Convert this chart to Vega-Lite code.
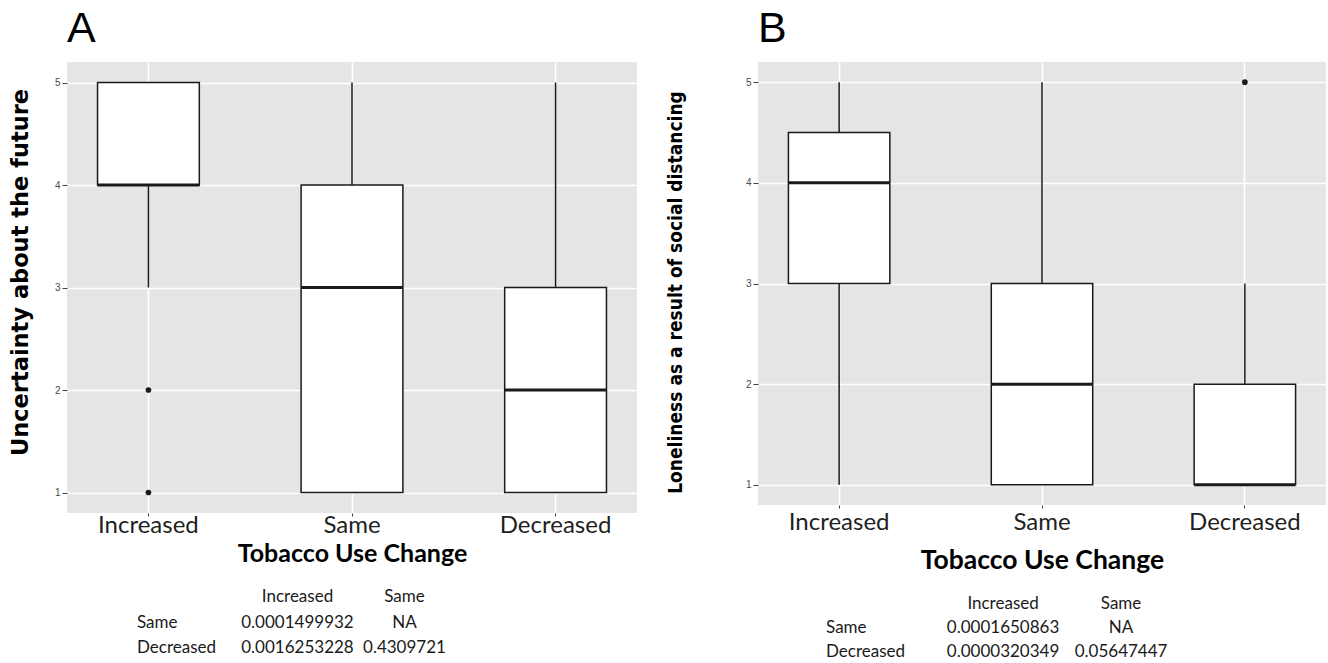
{
  "$schema": "https://vega.github.io/schema/vega-lite/v6.json",
  "background": "white",
  "padding": {"left": 9, "top": 8, "right": 0, "bottom": 0},
  "config": {
    "view": {"fill": "#e5e5e5", "stroke": null},
    "axisY": {"labelOverlap": false},
    "axisX": {"labelOverlap": false}
  },
  "datasets": {
    "boxA": [
      {"group": "Increased", "lower": 3, "q1": 4, "median": 4, "q3": 5, "upper": 5},
      {"group": "Same", "lower": 1, "q1": 1, "median": 3, "q3": 4, "upper": 5},
      {"group": "Decreased", "lower": 1, "q1": 1, "median": 2, "q3": 3, "upper": 5}
    ],
    "outA": [
      {"group": "Increased", "value": 2},
      {"group": "Increased", "value": 1}
    ],
    "tabA": [
      {"row": "header", "col": "Increased", "text": "Increased"},
      {"row": "header", "col": "Same", "text": "Same"},
      {"row": "Same", "col": "rowname", "text": "Same"},
      {"row": "Same", "col": "Increased", "text": "0.0001499932"},
      {"row": "Same", "col": "Same", "text": "NA"},
      {"row": "Decreased", "col": "rowname", "text": "Decreased"},
      {"row": "Decreased", "col": "Increased", "text": "0.0016253228"},
      {"row": "Decreased", "col": "Same", "text": "0.4309721"}
    ],
    "boxB": [
      {"group": "Increased", "lower": 1, "q1": 3, "median": 4, "q3": 4.5, "upper": 5},
      {"group": "Same", "lower": 1, "q1": 1, "median": 2, "q3": 3, "upper": 5},
      {"group": "Decreased", "lower": 1, "q1": 1, "median": 1, "q3": 2, "upper": 3}
    ],
    "outB": [
      {"group": "Decreased", "value": 5}
    ],
    "tabB": [
      {"row": "header", "col": "Increased", "text": "Increased"},
      {"row": "header", "col": "Same", "text": "Same"},
      {"row": "Same", "col": "rowname", "text": "Same"},
      {"row": "Same", "col": "Increased", "text": "0.0001650863"},
      {"row": "Same", "col": "Same", "text": "NA"},
      {"row": "Decreased", "col": "rowname", "text": "Decreased"},
      {"row": "Decreased", "col": "Increased", "text": "0.0000320349"},
      {"row": "Decreased", "col": "Same", "text": "0.05647447"}
    ]
  },
  "spacing": 29,
  "hconcat": [
    {
      "bounds": "flush",
      "spacing": 84,
      "vconcat": [
        {
          "width": 570,
          "height": 451,
          "title": {"text": "A", "anchor": "start", "frame": "group", "font": "Liberation Sans", "fontSize": 43, "fontWeight": "normal", "baseline": "alphabetic", "offset": -23, "color": "black"},
          "encoding": {
            "x": {
              "field": "group", "type": "nominal", "sort": ["Increased", "Same", "Decreased"],
              "scale": {"type": "band", "paddingInner": 0.5, "paddingOuter": 0.15},
              "axis": {
                "title": "Tobacco Use Change", "labelAngle": 0, "labelFont": "Lato", "labelFontSize": 24,
                "labelColor": "#1f1f1f", "labelPadding": -3, "tickSize": 3, "tickColor": "#444", "domain": false,
                "grid": true, "gridColor": "white", "gridWidth": 1.6, "bandPosition": 0.5,
                "titleFont": "Lato", "titleFontWeight": "bold", "titleFontSize": 25, "titleColor": "black", "titlePadding": 4
              }
            }
          },
          "layer": [
            {
              "data": {"name": "boxA"},
              "mark": {"type": "rule", "color": "#1a1a1a", "strokeWidth": 1.5},
              "encoding": {
                "y": {
                  "field": "lower", "type": "quantitative", "title": "Uncertainty about the future",
                  "scale": {"domain": [0.8, 5.2], "nice": false, "zero": false},
                  "axis": {
                    "values": [1, 1.5, 2, 2.5, 3, 3.5, 4, 4.5, 5],
                    "format": "d",
                    "labelExpr": "datum.value % 1 === 0 ? datum.label : ''",
                    "grid": true, "gridColor": "white",
                    "gridWidth": {"condition": {"test": "datum.value % 1 !== 0", "value": 0.8}, "value": 1.6},
                    "tickSize": 5, "tickColor": "#444",
                    "tickOpacity": {"condition": {"test": "datum.value % 1 !== 0", "value": 0}, "value": 1},
                    "labelFont": "Liberation Sans", "labelFontSize": 10, "labelColor": "#4d4d4d", "labelPadding": 2,
                    "domain": false,
                    "titleFont": "DejaVu Sans", "titleFontWeight": "bold", "titleFontSize": 22.5, "titleColor": "black", "titlePadding": 22,
                    "titleY": 210
                  }
                },
                "y2": {"field": "upper"}
              }
            },
            {
              "data": {"name": "boxA"},
              "mark": {"type": "bar", "fill": "white", "stroke": "#1a1a1a", "strokeWidth": 1.5},
              "encoding": {
                "y": {"field": "q1", "type": "quantitative", "title": "Uncertainty about the future"},
                "y2": {"field": "q3"}
              }
            },
            {
              "data": {"name": "boxA"},
              "mark": {"type": "tick", "color": "#1a1a1a", "thickness": 3, "size": 102, "opacity": 1},
              "encoding": {
                "y": {"field": "median", "type": "quantitative", "title": "Uncertainty about the future"}
              }
            },
            {
              "data": {"name": "outA"},
              "mark": {"type": "point", "filled": true, "color": "#1a1a1a", "size": 32, "opacity": 1},
              "encoding": {
                "y": {"field": "value", "type": "quantitative", "title": "Uncertainty about the future"}
              }
            }
          ]
        },
        {
          "width": 535,
          "height": 51,
          "view": {"fill": null, "stroke": null},
          "data": {"name": "tabA"},
          "encoding": {
            "y": {"field": "row", "type": "nominal", "scale": {"type": "point", "domain": ["header", "Same", "Decreased"], "padding": 0}, "axis": null},
            "text": {"field": "text"}
          },
          "layer": [
            {
              "transform": [{"filter": "datum.col === 'rowname'"}],
              "mark": {"type": "text", "align": "left", "baseline": "middle", "font": "Lato", "fontSize": 17, "color": "#1a1a1a"},
              "encoding": {
                "x": {"field": "col", "type": "nominal", "bandPosition": 0, "scale": {"type": "band", "domain": ["rowname", "Increased", "Same"], "paddingInner": 0, "paddingOuter": 1, "align": 0.327}, "axis": null}
              }
            },
            {
              "transform": [{"filter": "datum.col !== 'rowname'"}],
              "mark": {"type": "text", "align": "center", "baseline": "middle", "font": "Lato", "fontSize": 17, "color": "#1a1a1a"},
              "encoding": {
                "x": {"field": "col", "type": "nominal", "bandPosition": 0.5, "scale": {"type": "band", "domain": ["rowname", "Increased", "Same"], "paddingInner": 0, "paddingOuter": 1, "align": 0.327}, "axis": null}
              }
            }
          ]
        }
      ]
    },
    {
      "bounds": "flush",
      "spacing": 99,
      "vconcat": [
        {
          "width": 568,
          "height": 443,
          "title": {"text": "B", "anchor": "start", "frame": "group", "font": "Liberation Sans", "fontSize": 43, "fontWeight": "normal", "baseline": "alphabetic", "offset": -23, "color": "black"},
          "encoding": {
            "x": {
              "field": "group", "type": "nominal", "sort": ["Increased", "Same", "Decreased"],
              "scale": {"type": "band", "paddingInner": 0.5, "paddingOuter": 0.15},
              "axis": {
                "title": "Tobacco Use Change", "labelAngle": 0, "labelFont": "Lato", "labelFontSize": 24,
                "labelColor": "#1f1f1f", "labelPadding": 2, "tickSize": 3, "tickColor": "#444", "domain": false,
                "grid": true, "gridColor": "white", "gridWidth": 1.6, "bandPosition": 0.5,
                "titleFont": "Lato", "titleFontWeight": "bold", "titleFontSize": 26.5, "titleColor": "black", "titlePadding": 13
              }
            }
          },
          "layer": [
            {
              "data": {"name": "boxB"},
              "mark": {"type": "rule", "color": "#1a1a1a", "strokeWidth": 1.5},
              "encoding": {
                "y": {
                  "field": "lower", "type": "quantitative", "title": "Loneliness as a result of social distancing",
                  "scale": {"domain": [0.8, 5.2], "nice": false, "zero": false},
                  "axis": {
                    "values": [1, 1.5, 2, 2.5, 3, 3.5, 4, 4.5, 5],
                    "format": "d",
                    "labelExpr": "datum.value % 1 === 0 ? datum.label : ''",
                    "grid": true, "gridColor": "white",
                    "gridWidth": {"condition": {"test": "datum.value % 1 !== 0", "value": 0.8}, "value": 1.6},
                    "tickSize": 5, "tickColor": "#444",
                    "tickOpacity": {"condition": {"test": "datum.value % 1 !== 0", "value": 0}, "value": 1},
                    "labelFont": "Liberation Sans", "labelFontSize": 10, "labelColor": "#4d4d4d", "labelPadding": 2,
                    "domain": false,
                    "titleFont": "DejaVu Sans Condensed", "titleFontWeight": "bold", "titleFontSize": 19, "titleColor": "black", "titlePadding": 60,
                    "titleY": 230
                  }
                },
                "y2": {"field": "upper"}
              }
            },
            {
              "data": {"name": "boxB"},
              "mark": {"type": "bar", "fill": "white", "stroke": "#1a1a1a", "strokeWidth": 1.5},
              "encoding": {
                "y": {"field": "q1", "type": "quantitative", "title": "Loneliness as a result of social distancing"},
                "y2": {"field": "q3"}
              }
            },
            {
              "data": {"name": "boxB"},
              "mark": {"type": "tick", "color": "#1a1a1a", "thickness": 3, "size": 101, "opacity": 1},
              "encoding": {
                "y": {"field": "median", "type": "quantitative", "title": "Loneliness as a result of social distancing"}
              }
            },
            {
              "data": {"name": "outB"},
              "mark": {"type": "point", "filled": true, "color": "#1a1a1a", "size": 32, "opacity": 1},
              "encoding": {
                "y": {"field": "value", "type": "quantitative", "title": "Loneliness as a result of social distancing"}
              }
            }
          ]
        },
        {
          "width": 568,
          "height": 48,
          "view": {"fill": null, "stroke": null},
          "data": {"name": "tabB"},
          "encoding": {
            "y": {"field": "row", "type": "nominal", "scale": {"type": "point", "domain": ["header", "Same", "Decreased"], "padding": 0}, "axis": null},
            "text": {"field": "text"}
          },
          "layer": [
            {
              "transform": [{"filter": "datum.col === 'rowname'"}],
              "mark": {"type": "text", "align": "left", "baseline": "middle", "font": "Lato", "fontSize": 17, "color": "#1a1a1a"},
              "encoding": {
                "x": {"field": "col", "type": "nominal", "bandPosition": 0, "scale": {"type": "band", "domain": ["rowname", "Increased", "Same"], "paddingInner": 0, "paddingOuter": 0.9068, "align": 0.318}, "axis": null}
              }
            },
            {
              "transform": [{"filter": "datum.col !== 'rowname'"}],
              "mark": {"type": "text", "align": "center", "baseline": "middle", "font": "Lato", "fontSize": 17, "color": "#1a1a1a"},
              "encoding": {
                "x": {"field": "col", "type": "nominal", "bandPosition": 0.5, "scale": {"type": "band", "domain": ["rowname", "Increased", "Same"], "paddingInner": 0, "paddingOuter": 0.9068, "align": 0.318}, "axis": null}
              }
            }
          ]
        }
      ]
    }
  ]
}
